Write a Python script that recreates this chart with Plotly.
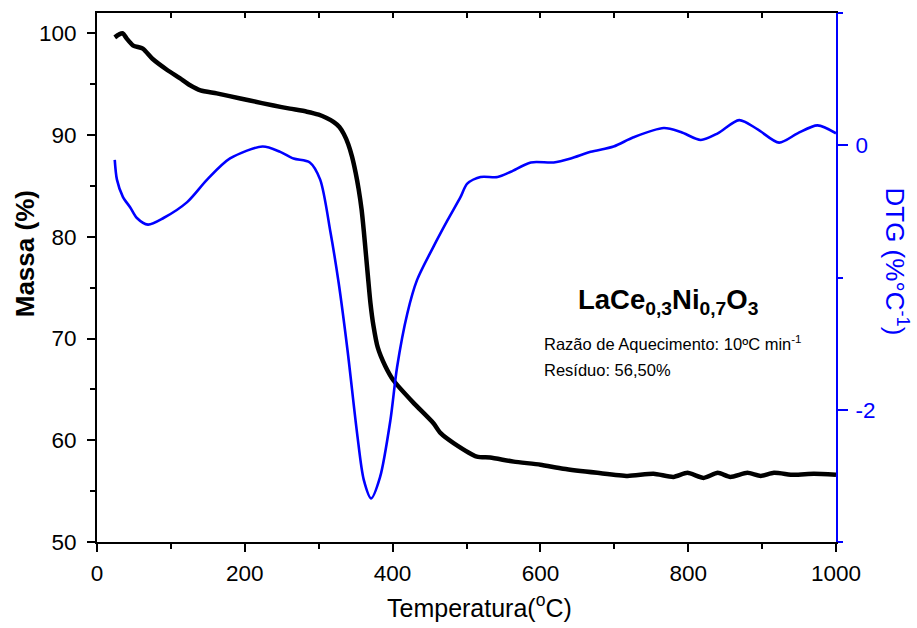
import plotly.graph_objects as go

# TG curve: temperature (°C) and remaining mass (%)
temp_tg = [24, 30, 35, 40, 49, 62, 75, 95, 112, 126, 140, 162, 194, 207, 239, 261,
           284, 300, 310, 320, 328, 334, 340, 345, 350, 354, 358, 361, 364, 367, 370,
           374, 380, 390, 401, 428, 455, 465, 483, 514, 532, 564, 600, 631, 677, 718, 753,
           780, 799, 821, 840, 857, 880, 898, 916, 943, 970, 1000]
mass = [99.6, 99.9, 100.0, 99.5, 98.8, 98.5, 97.5, 96.4, 95.6, 94.9, 94.4, 94.1, 93.6, 93.4, 92.9, 92.6,
        92.3, 92.0, 91.7, 91.3, 90.8, 90.1, 89.1, 87.9, 86.3, 84.7, 82.7, 80.6, 78.2, 75.8, 73.5,
        71.3, 69.1, 67.3, 65.9, 63.7, 61.7, 60.7, 59.7, 58.4, 58.3, 57.9, 57.6, 57.2, 56.8, 56.5, 56.7,
        56.4, 56.8, 56.3, 56.8, 56.4, 56.8, 56.5, 56.8, 56.6, 56.7, 56.6]

# DTG curve: temperature (°C) and mass-loss rate (%/°C)
temp_dtg = [24, 27, 35, 45, 54, 69, 90, 122, 149, 180, 224, 248, 266, 288, 302, 316, 327,
            339, 352, 361, 371, 383, 397, 406, 420, 433, 455, 474, 492, 501, 519, 542, 560,
            587, 618, 641, 668, 699, 726, 767, 790, 817, 840, 869, 894, 923, 948, 975, 1000]
dtg = [-0.11, -0.26, -0.39, -0.47, -0.55, -0.60, -0.55, -0.43, -0.26, -0.10, -0.01, -0.05, -0.10,
       -0.13, -0.26, -0.66, -1.04, -1.55, -2.18, -2.53, -2.67, -2.51, -2.08, -1.68, -1.27, -1.02,
       -0.77, -0.57, -0.39, -0.29, -0.24, -0.24, -0.20, -0.13, -0.13, -0.10, -0.05, -0.01, 0.06,
       0.13, 0.10, 0.04, 0.09, 0.19, 0.12, 0.02, 0.09, 0.15, 0.09]

# right-axis labels (plain hyphen for the minus sign)
dtg_tickvals = [-2, 0]
dtg_ticktext = ["-2", "0"]

FONT = "Arial, Liberation Sans, sans-serif"
BLUE = "#0000ff"

fig = go.Figure()
fig.add_trace(go.Scatter(x=temp_tg, y=mass, mode="lines", yaxis="y",
                         line=dict(color="black", width=4.5, shape="spline", smoothing=0.6),
                         showlegend=False, hoverinfo="skip"))
fig.add_trace(go.Scatter(x=temp_dtg, y=dtg, mode="lines", yaxis="y2",
                         line=dict(color=BLUE, width=2.6, shape="spline", smoothing=0.8),
                         showlegend=False, hoverinfo="skip"))
# empty trace so the top frame axis is drawn
fig.add_trace(go.Scatter(x=[], y=[], xaxis="x2", yaxis="y", showlegend=False))

fig.update_layout(
    width=917, height=628,
    margin=dict(l=97, r=81, t=13, b=86),
    paper_bgcolor="white", plot_bgcolor="white",
    font=dict(family=FONT, size=22, color="black"),
    xaxis=dict(range=[0, 1000], tick0=0, dtick=200, ticks="outside", ticklen=8, tickwidth=2,
               tickcolor="black", showline=True, linewidth=2, linecolor="black",
               showgrid=False, zeroline=False, ticklabelstandoff=2,
               minor=dict(dtick=100, ticks="outside", ticklen=5, tickwidth=2, tickcolor="black"),
               tickfont=dict(size=22.5)),
    xaxis2=dict(range=[0, 1000], overlaying="x", side="top", anchor="y", dtick=100,
                ticks="inside", ticklen=5, tickwidth=2, tickcolor="black",
                showticklabels=False, showline=True, linewidth=2, linecolor="black",
                showgrid=False, zeroline=False),
    yaxis=dict(range=[50, 102], tick0=50, dtick=10, ticks="outside", ticklen=8, tickwidth=2,
               tickcolor="black", showline=True, linewidth=2, linecolor="black",
               showgrid=False, zeroline=False, ticklabelstandoff=6,
               minor=dict(dtick=5, ticks="outside", ticklen=5, tickwidth=2, tickcolor="black"),
               tickfont=dict(size=22.5)),
    yaxis2=dict(range=[-3, 1], overlaying="y", side="right", anchor="x",
                tickmode="array", tickvals=dtg_tickvals, ticktext=dtg_ticktext,
                ticks="outside", ticklen=10, tickwidth=2, tickcolor=BLUE,
                showline=True, linewidth=2, linecolor=BLUE, showgrid=False, zeroline=False,
                ticklabelstandoff=3,
                minor=dict(tickvals=[-3, -1, 1], ticks="outside", ticklen=5, tickwidth=2,
                           tickcolor=BLUE),
                tickfont=dict(size=22.5, color=BLUE)),
)

annotations = [
    dict(text="<b>Massa (%)</b>", xref="paper", yref="paper", x=-0.0974, y=0.544,
         xanchor="center", yanchor="middle",
         textangle=-90, showarrow=False, font=dict(size=26, color="black")),
    dict(text="DTG (%°C<sup>-1</sup>)", xref="paper", yref="paper", x=1.082, y=0.531,
         xanchor="center", yanchor="middle",
         textangle=90, showarrow=False, font=dict(size=26, color=BLUE)),
    dict(text="Temperatura(<sup>o</sup>C)", xref="paper", yref="paper", x=0.518, y=-0.121,
         xanchor="center", yanchor="middle",
         showarrow=False, font=dict(size=25, color="black")),
    dict(text="<b>LaCe<sub>0,3</sub>Ni<sub>0,7</sub>O<sub>3</sub></b>", xref="x", yref="y",
         x=774, y=73.6, showarrow=False, font=dict(size=27.5, color="black")),
    dict(text="Razão de Aquecimento: 10ºC min<sup>-1</sup>", xref="x", yref="y",
         x=602, y=69.6, xanchor="left", showarrow=False, font=dict(size=16.5, color="black")),
    dict(text="Resíduo: 56,50%", xref="x", yref="y",
         x=602, y=66.9, xanchor="left", showarrow=False, font=dict(size=16.5, color="black")),
]
fig.update_layout(annotations=annotations)

fig.write_html("out.html")
